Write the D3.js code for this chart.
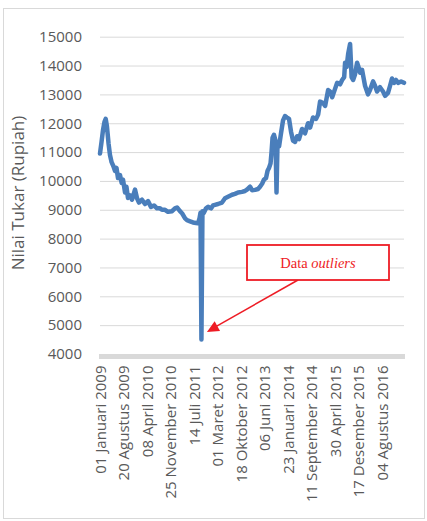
<!DOCTYPE html>
<html>
<head>
<meta charset="utf-8">
<script src="https://cdn.jsdelivr.net/npm/d3@7"></script>
<style>
  html, body { margin: 0; padding: 0; background: #fff; }
  svg { display: block; }
</style>
</head>
<body>
<svg id="chart" width="427" height="521"></svg>
<script>
// exchange rate IDR/USD
const dates = [
  '2009-01-01', '2009-01-16', '2009-01-30', '2009-02-14', '2009-02-26', '2009-03-10', '2009-03-26', '2009-04-09',
  '2009-04-25', '2009-05-14', '2009-05-28', '2009-06-12', '2009-06-27', '2009-07-17', '2009-08-02', '2009-08-15',
  '2009-09-04', '2009-09-18', '2009-10-03', '2009-10-23', '2009-11-12', '2009-12-11', '2009-12-31', '2010-01-19',
  '2010-02-18', '2010-03-19', '2010-04-18', '2010-05-17', '2010-06-16', '2010-07-15', '2010-08-14', '2010-09-02',
  '2010-10-02', '2010-10-31', '2010-12-10', '2011-01-08', '2011-01-28', '2011-02-26', '2011-03-18', '2011-04-17',
  '2011-05-06', '2011-06-05', '2011-07-04', '2011-08-03', '2011-08-22', '2011-09-06', '2011-09-16', '2011-09-25',
  '2011-10-05', '2011-10-20', '2011-11-09', '2011-11-29', '2011-12-28', '2012-01-17', '2012-02-05', '2012-03-06',
  '2012-04-14', '2012-05-14', '2012-06-12', '2012-07-22', '2012-08-20', '2012-09-19', '2012-10-28', '2012-11-26',
  '2012-12-16', '2013-01-15', '2013-02-03', '2013-03-05', '2013-04-03', '2013-04-23', '2013-05-13', '2013-06-01',
  '2013-06-21', '2013-07-06', '2013-07-20', '2013-08-04', '2013-08-14', '2013-08-24', '2013-09-07', '2013-09-22',
  '2013-10-02', '2013-10-12', '2013-10-27', '2013-11-15', '2013-12-05', '2013-12-25', '2014-01-13', '2014-02-02',
  '2014-02-22', '2014-03-13', '2014-04-02', '2014-04-22', '2014-05-11', '2014-06-10', '2014-07-09', '2014-08-08',
  '2014-08-28', '2014-09-26', '2014-10-26', '2014-11-15', '2014-12-04', '2015-01-03', '2015-01-23', '2015-02-21',
  '2015-03-13', '2015-04-02', '2015-05-01', '2015-05-21', '2015-06-19', '2015-07-09', '2015-07-29', '2015-08-07',
  '2015-08-22', '2015-09-06', '2015-09-25', '2015-10-10', '2015-10-25', '2015-11-13', '2015-12-03', '2015-12-17',
  '2016-01-01', '2016-01-21', '2016-02-19', '2016-03-19', '2016-04-08', '2016-05-08', '2016-05-27', '2016-06-16',
  '2016-07-15', '2016-08-14', '2016-09-03', '2016-10-02', '2016-10-22', '2016-11-10', '2016-11-30', '2016-12-20',
  '2017-01-08', '2017-02-07', '2017-03-08'
];
const rates = [
  10950, 11350, 11750, 12050, 12150, 11900, 11300, 10900,
  10650, 10500, 10350, 10450, 10100, 10200, 9930, 10050,
  9600, 9800, 9410, 9500, 9350, 9700, 9400, 9250,
  9350, 9200, 9300, 9100, 9150, 9050, 9050, 9000,
  9000, 8930, 8950, 9050, 9080, 8950, 8880, 8700,
  8640, 8600, 8560, 8540, 8530, 8700, 8900, 4500,
  8950, 8900, 9050, 9100, 9050, 9150, 9170, 9200,
  9250, 9400, 9450, 9520, 9550, 9600, 9620, 9650,
  9700, 9800, 9680, 9690, 9720, 9800, 9900, 10050,
  10100, 10350, 10450, 10600, 11000, 11500, 11600, 11400,
  9600, 11350, 11200, 11650, 12100, 12250, 12200, 12150,
  11700, 11400, 11350, 11550, 11450, 11800, 11650, 12000,
  11850, 12200, 12150, 12300, 12750, 12700, 12600, 13150,
  13100, 12900, 13200, 13400, 13350, 13500, 13600, 14100,
  13950, 14400, 14750, 13600, 13500, 13700, 14100, 13950,
  13750, 13850, 13300, 13000, 13150, 13450, 13300, 13100,
  13250, 13100, 12950, 13050, 13300, 13550, 13400, 13500,
  13400, 13450, 13400
];

const yTicks = [4000, 5000, 6000, 7000, 8000, 9000, 10000, 11000, 12000, 13000, 14000, 15000];
const tickDates = [
  '2009-01-01', '2009-08-20', '2010-04-08', '2010-11-25', '2011-07-14', '2012-03-01', '2012-10-18',
  '2013-06-06', '2014-01-23', '2014-09-11', '2015-04-30', '2015-12-17', '2016-08-04'
];
const tickLabels = [
  '01 Januari 2009', '20 Agustus 2009', '08 April 2010', '25 November 2010', '14 Juli 2011',
  '01 Maret 2012', '18 Oktober 2012', '06 Juni 2013', '23 Januari 2014', '11 September 2014',
  '30 April 2015', '17 Desember 2015', '04 Agustus 2016'
];
const outlierLabel = 'Data ';
const outlierLabelItalic = 'outliers';

const parse = d3.utcParse('%Y-%m-%d');
const series = dates.map((d, i) => ({ date: parse(d), value: rates[i] }));

const svg = d3.select('#chart');
const font = "'Open Sans', sans-serif";
const textColor = '#595959';
const plotLeft = 100, plotRight = 404, plotTop = 36.7, plotBottom = 354;

// outer frame
svg.append('rect')
  .attr('x', 3.5).attr('y', 8.5)
  .attr('width', 421).attr('height', 510)
  .attr('fill', '#fff')
  .attr('stroke', '#d9d9d9');

const x = d3.scaleUtc()
  .domain(d3.extent(series, (d) => d.date))
  .range([plotLeft, plotRight]);
const y = d3.scaleLinear()
  .domain([4000, 15000])
  .range([plotBottom, plotTop]);

// y axis with gridlines
const yAxis = svg.append('g')
  .attr('transform', `translate(${plotLeft},0)`)
  .call(d3.axisLeft(y).tickValues(yTicks).tickSizeInner(-(plotRight - plotLeft)).tickSizeOuter(0).tickPadding(18).tickFormat(d3.format('d')));
yAxis.select('.domain').remove();
yAxis.selectAll('.tick line').attr('stroke', '#d9d9d9').attr('stroke-width', 1);
yAxis.selectAll('.tick text')
  .attr('fill', textColor)
  .style('font-family', font)
  .style('font-size', '15px');

// x axis
const xAxis = svg.append('g')
  .attr('transform', `translate(0,${plotBottom + 2.5})`)
  .call(d3.axisBottom(x)
    .tickValues(tickDates.map(parse))
    .tickFormat((d, i) => tickLabels[i])
    .tickSize(0));
xAxis.select('.domain')
  .attr('stroke', '#d9d9d9')
  .attr('stroke-width', 5)
  .attr('d', `M${plotLeft - 1},0H${plotRight + 1}`);
xAxis.selectAll('.tick text')
  .attr('fill', textColor)
  .style('font-family', font)
  .style('font-size', '15px')
  .attr('text-anchor', 'end')
  .attr('transform', 'rotate(-90)')
  .attr('x', -9)
  .attr('y', 0)
  .attr('dy', '0.35em');

// axis title
svg.append('text')
  .attr('transform', 'translate(24,193) rotate(-90)')
  .attr('text-anchor', 'middle')
  .attr('fill', textColor)
  .style('font-family', font)
  .style('font-size', '17px')
  .text('Nilai Tukar (Rupiah)');

// the series
const line = d3.line()
  .x((d) => x(d.date))
  .y((d) => y(d.value));

svg.append('path')
  .datum(series)
  .attr('d', line)
  .attr('fill', 'none')
  .attr('stroke', '#4a7ebb')
  .attr('stroke-width', 4.5)
  .attr('stroke-linejoin', 'round')
  .attr('stroke-linecap', 'round');

// annotation
const red = '#ee1c25';
const outlier = series.reduce((a, b) => (b.value < a.value ? b : a));
const tipX = x(outlier.date) + 5.5;
const tipY = y(outlier.value) - 7.5;
const boxX = 247, boxY = 245, boxW = 142, boxH = 35;
const startX = 298, startY = boxY + boxH;

svg.append('line')
  .attr('x1', startX).attr('y1', startY)
  .attr('x2', tipX + 8).attr('y2', tipY - 5)
  .attr('stroke', red)
  .attr('stroke-width', 1.5);

const ang = Math.atan2(tipY - startY, tipX - startX);
const hl = 12, hw = 5.5;
const bx = tipX - hl * Math.cos(ang), by = tipY - hl * Math.sin(ang);
svg.append('path')
  .attr('d', `M${tipX},${tipY}L${bx + hw * Math.sin(ang)},${by - hw * Math.cos(ang)}L${bx - hw * Math.sin(ang)},${by + hw * Math.cos(ang)}Z`)
  .attr('fill', red);

svg.append('rect')
  .attr('x', boxX).attr('y', boxY)
  .attr('width', boxW).attr('height', boxH)
  .attr('fill', '#fff')
  .attr('stroke', red)
  .attr('stroke-width', 1.8);

const label = svg.append('text')
  .attr('x', boxX + boxW / 2)
  .attr('y', boxY + 23)
  .attr('text-anchor', 'middle')
  .attr('fill', red)
  .style('font-family', "'Liberation Serif', 'Times New Roman', serif")
  .style('font-size', '14.5px');
label.append('tspan').text(outlierLabel);
label.append('tspan').style('font-style', 'italic').text(outlierLabelItalic);
</script>
</body>
</html>
